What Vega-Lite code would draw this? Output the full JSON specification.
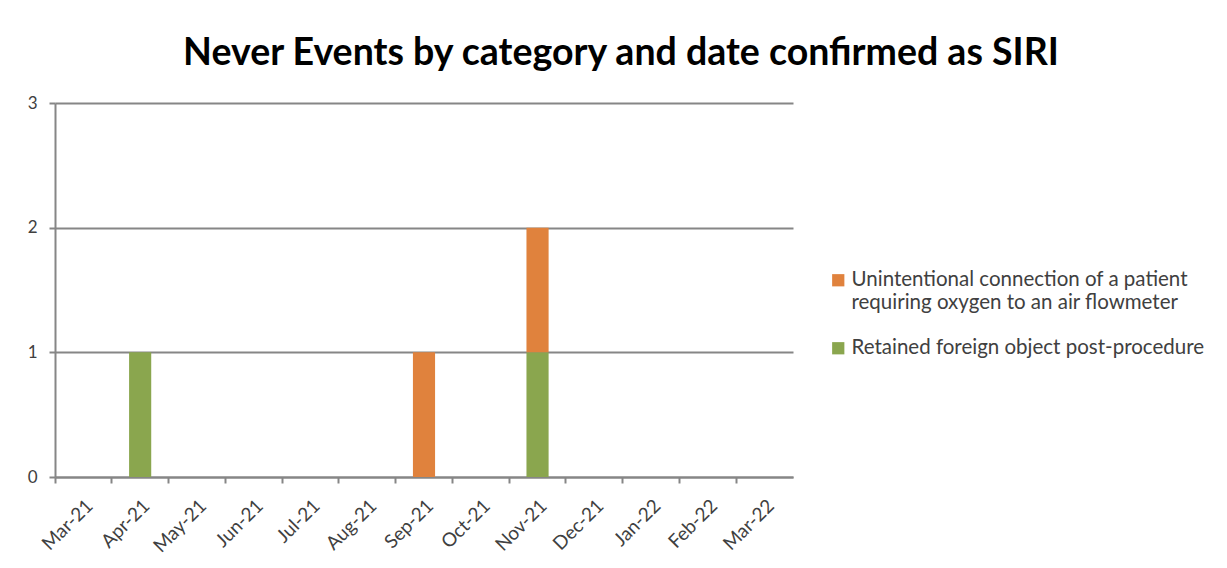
{
  "$schema": "https://vega.github.io/schema/vega-lite/v6.json",
  "width": 738,
  "height": 374,
  "autosize": "none",
  "padding": {"left": 55, "top": 103, "right": 434, "bottom": 91},
  "background": "white",
  "title": {
    "text": "Never Events by category and date confirmed as SIRI",
    "font": "Lato",
    "fontSize": 37.5,
    "fontWeight": "bold",
    "color": "#000000",
    "anchor": "middle",
    "frame": "group",
    "dx": 197,
    "offset": 22
  },
  "data": {
    "values": [
      {"month": "Apr-21", "category": "Retained foreign object post-procedure", "count": 1},
      {"month": "Sep-21", "category": "Unintentional connection of a patient requiring oxygen to an air flowmeter", "count": 1},
      {"month": "Nov-21", "category": "Retained foreign object post-procedure", "count": 1},
      {"month": "Nov-21", "category": "Unintentional connection of a patient requiring oxygen to an air flowmeter", "count": 1}
    ]
  },
  "mark": {"type": "bar", "width": {"band": 0.39}},
  "encoding": {
    "x": {
      "field": "month",
      "type": "ordinal",
      "title": null,
      "scale": {
        "domain": ["Mar-21", "Apr-21", "May-21", "Jun-21", "Jul-21", "Aug-21", "Sep-21", "Oct-21", "Nov-21", "Dec-21", "Jan-22", "Feb-22", "Mar-22"],
        "paddingInner": 0,
        "paddingOuter": 0
      },
      "axis": {
        "bandPosition": 0,
        "labelOffset": 0,
        "labelAngle": -45,
        "labelFont": "Lato",
        "labelFontSize": 19,
        "labelColor": "#404040",
        "labelPadding": 13,
        "tickSize": 6,
        "tickColor": "#868686",
        "tickWidth": 2,
        "domainColor": "#868686",
        "domainWidth": 2,
        "grid": false
      }
    },
    "y": {
      "field": "count",
      "type": "quantitative",
      "aggregate": "sum",
      "stack": "zero",
      "title": null,
      "scale": {"domain": [0, 3], "nice": false},
      "axis": {
        "values": [0, 1, 2, 3],
        "format": "d",
        "labelFont": "Lato",
        "labelFontSize": 17,
        "labelColor": "#404040",
        "labelPadding": 12,
        "tickSize": 6,
        "tickColor": "#868686",
        "tickWidth": 2,
        "domainColor": "#868686",
        "domainWidth": 2,
        "grid": true,
        "gridColor": "#868686",
        "gridWidth": 2
      }
    },
    "color": {
      "field": "category",
      "type": "nominal",
      "scale": {
        "domain": ["Unintentional connection of a patient requiring oxygen to an air flowmeter", "Retained foreign object post-procedure"],
        "range": ["#E0823D", "#8AA64E"]
      },
      "legend": {
        "title": null,
        "orient": "none",
        "legendX": 773,
        "legendY": 167,
        "symbolType": "square",
        "symbolSize": 150,
        "symbolStrokeWidth": 0,
        "labelFont": "Lato",
        "labelFontSize": 20.5,
        "labelColor": "#404040",
        "labelLimit": 420,
        "labelOffset": 3,
        "rowPadding": 24,
        "labelExpr": "datum.label == 'Retained foreign object post-procedure' ? datum.label : ['Unintentional connection of a patient', 'requiring oxygen to an air flowmeter']"
      }
    },
    "order": {"field": "category", "sort": "ascending"}
  },
  "config": {
    "view": {"stroke": null}
  }
}
